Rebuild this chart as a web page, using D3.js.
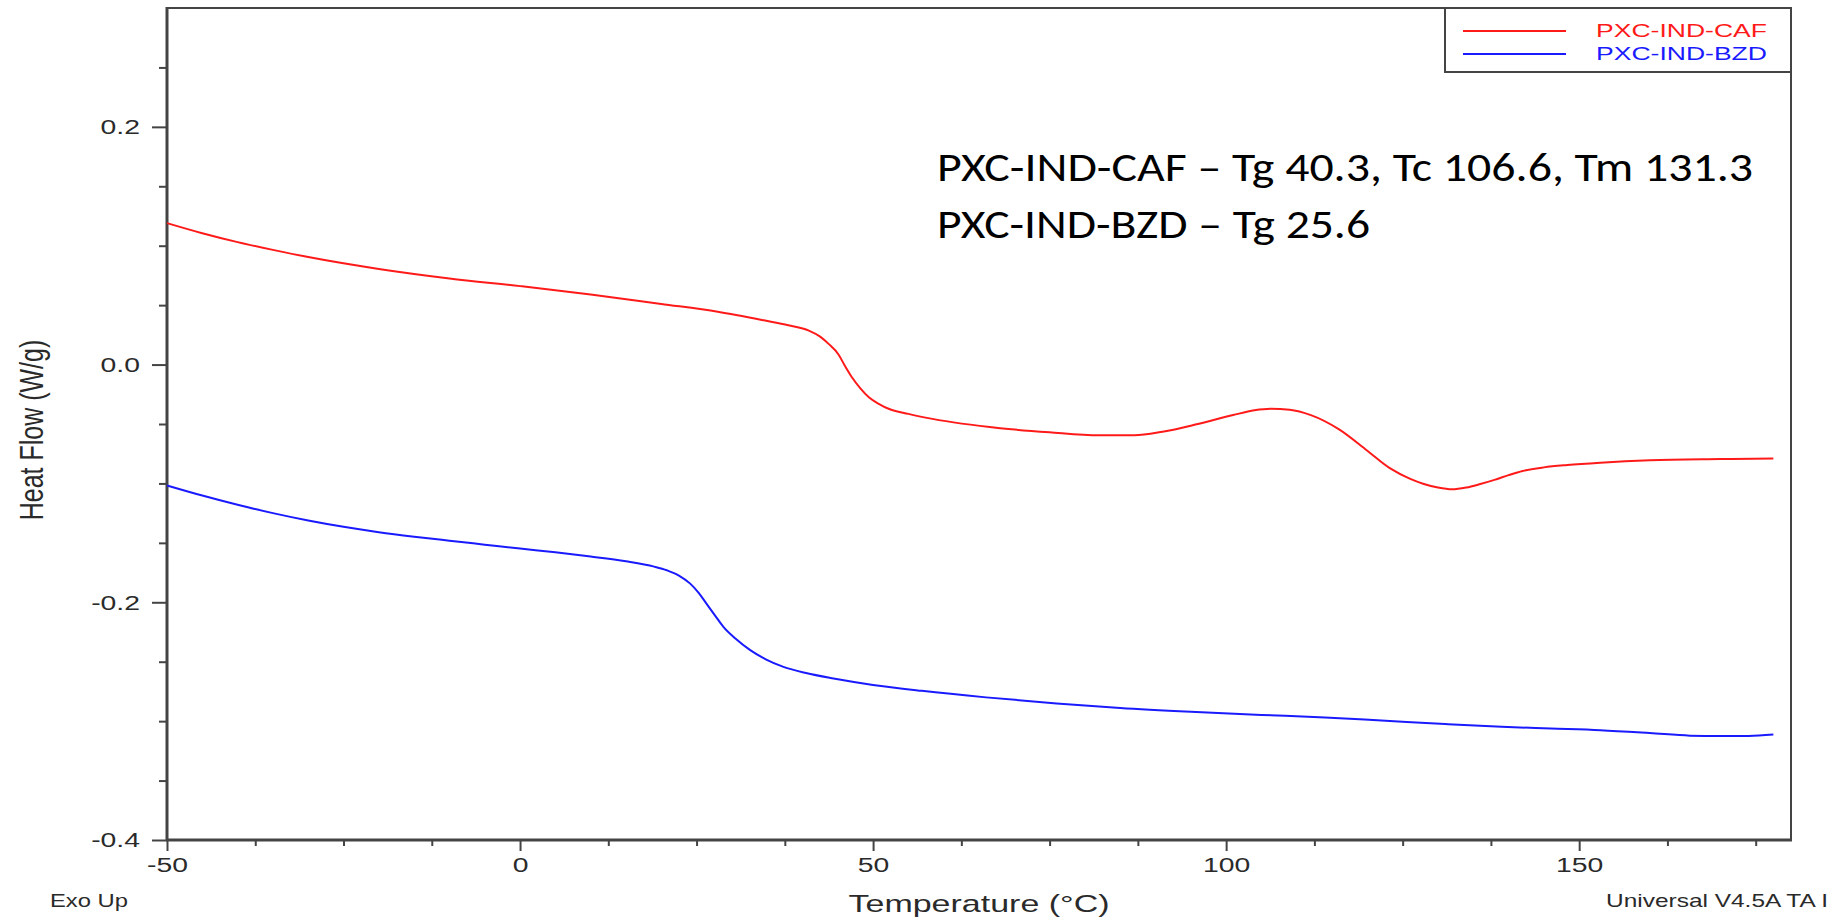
<!DOCTYPE html>
<html><head><meta charset="utf-8">
<script src="https://cdn.jsdelivr.net/npm/d3@7"></script>
<style>html,body{margin:0;padding:0;background:#fff;overflow:hidden}</style>
</head><body><svg id="chart" width="1836" height="920"></svg>
<script>
// ---------- data ----------
const seriesNames = ["PXC-IND-CAF", "PXC-IND-BZD"];
const seriesColors = ["#ff1a1a", "#1a1aff"];

const tempCAF = [-50, -45, -40, -35, -30, -20, -10, 0, 10, 20, 28, 34.7, 38, 40.9, 42.5, 43.7, 45.1, 46, 47, 48.2, 49.4, 50.8, 52.2, 55, 58.4, 68, 75, 82, 87, 91, 96, 101, 104, 106.3, 109, 112, 116, 120, 123.3, 126, 128, 130, 132, 134, 136, 138, 140, 142, 145, 148.3, 153, 160, 170, 177.5];
const flowCAF = [0.119, 0.1105, 0.103, 0.0965, 0.0905, 0.0805, 0.0725, 0.066, 0.059, 0.051, 0.0445, 0.037, 0.0330, 0.0286, 0.0235, 0.0174, 0.0085, -0.001, -0.0107, -0.020, -0.0275, -0.033, -0.0372, -0.0415, -0.0457, -0.0535, -0.057, -0.0595, -0.0595, -0.0565, -0.050, -0.0425, -0.0385, -0.0372, -0.038, -0.0425, -0.0545, -0.0725, -0.0876, -0.096, -0.1005, -0.1035, -0.105, -0.1035, -0.1005, -0.097, -0.093, -0.0895, -0.0865, -0.0845, -0.0825, -0.0805, -0.0795, -0.079];

const tempBZD = [-50, -45, -40, -35, -30, -25, -20, -15, -10, -5, 0, 5, 10, 15, 19, 20.8, 22.5, 24.1, 25.3, 26.4, 27.6, 28.8, 30.5, 32.6, 34.8, 37.3, 40.5, 44.4, 50, 56.9, 66, 76, 85, 95, 105, 114, 122, 131, 139, 146, 153, 160, 165.7, 170, 174, 177.5];
const flowBZD = [-0.1017, -0.1102, -0.1180, -0.1250, -0.1312, -0.1365, -0.1410, -0.1448, -0.1482, -0.1515, -0.1548, -0.1580, -0.1615, -0.1655, -0.1700, -0.1731, -0.1775, -0.1843, -0.192, -0.2011, -0.211, -0.2207, -0.2305, -0.2403, -0.248, -0.2543, -0.2595, -0.2641, -0.2695, -0.2745, -0.2800, -0.2851, -0.2890, -0.2922, -0.2948, -0.2969, -0.2995, -0.3025, -0.3048, -0.3062, -0.3076, -0.3100, -0.3122, -0.3126, -0.3124, -0.3112];

const xTicks = [-50, 0, 50, 100, 150];
const xMinorTicks = [-37.5, -25, -12.5, 12.5, 25, 37.5, 62.5, 75, 87.5, 112.5, 125, 137.5, 162.5, 175];
const yTicks = [-0.4, -0.2, 0, 0.2];
const yMinorTicks = [-0.35, -0.3, -0.25, -0.15, -0.1, -0.05, 0.05, 0.1, 0.15, 0.25];

const xTitle = "Temperature (°C)";
const yTitle = "Heat Flow (W/g)";
const cornerLeft = "Exo Up";
const cornerRight = "Universal V4.5A TA I";
const annotations = ["PXC-IND-CAF – Tg 40.3, Tc 106.6, Tm 131.3", "PXC-IND-BZD – Tg 25.6"];

// ---------- drawing ----------
const svg = d3.select("#chart");
const x = d3.scaleLinear().domain([-50, 180]).range([167, 1791]);
const y = d3.scaleLinear().domain([-0.4, 0.3]).range([840, 8]);
const SX = 1.35; // horizontal stretch of the original export
const axisColor = "#444";
const textColor = "#2a2a2a";
const font = "'Liberation Sans', Arial, Helvetica, sans-serif";

function stretchedText(str, tx, ty, size, anchor, color, extra, width) {
  const t = svg.append("text")
    .attr("transform", `translate(${tx},${ty}) scale(${SX},1)` + (extra || ""))
    .attr("text-anchor", anchor)
    .attr("font-family", font)
    .attr("font-size", size)
    .attr("fill", color)
    .text(str);
  if (width) t.attr("textLength", width / SX).attr("lengthAdjust", "spacingAndGlyphs");
  return t;
}

// Y axis (major + minor)
const yAxisG = svg.append("g").attr("transform", "translate(167,0)")
  .call(d3.axisLeft(y).tickValues(yTicks).tickSize(15).tickPadding(12)
    .tickFormat(d => d.toFixed(1)));
const yMinorG = svg.append("g").attr("transform", "translate(167,0)")
  .call(d3.axisLeft(y).tickValues(yMinorTicks).tickSize(8).tickFormat(""));

// X axis (major + minor)
const xAxisG = svg.append("g").attr("transform", "translate(0,840)")
  .call(d3.axisBottom(x).tickValues(xTicks).tickSize(11).tickPadding(6)
    .tickFormat(d => String(d)));
const xMinorG = svg.append("g").attr("transform", "translate(0,840)")
  .call(d3.axisBottom(x).tickValues(xMinorTicks).tickSize(6).tickFormat(""));

[yAxisG, yMinorG, xAxisG, xMinorG].forEach(g => {
  g.select(".domain").remove();
  g.selectAll("line").attr("stroke", axisColor).attr("stroke-width", 2);
});
yAxisG.selectAll("text")
  .attr("x", -27 / SX)
  .attr("transform", `scale(${SX},1)`)
  .attr("font-family", font).attr("font-size", 21).attr("fill", textColor);
xAxisG.selectAll("text")
  .attr("transform", `scale(${SX},1)`)
  .attr("font-family", font).attr("font-size", 21).attr("fill", textColor);

// frame
svg.append("line").attr("x1", 167).attr("x2", 1791).attr("y1", 8).attr("y2", 8)
  .attr("stroke", axisColor).attr("stroke-width", 2);
svg.append("line").attr("x1", 1791).attr("x2", 1791).attr("y1", 8).attr("y2", 840)
  .attr("stroke", axisColor).attr("stroke-width", 2);
svg.append("line").attr("x1", 167).attr("x2", 167).attr("y1", 7).attr("y2", 841)
  .attr("stroke", axisColor).attr("stroke-width", 3);
svg.append("line").attr("x1", 166).attr("x2", 1792).attr("y1", 840).attr("y2", 840)
  .attr("stroke", axisColor).attr("stroke-width", 3);

// curves
const line = d3.line().x(d => x(d[0])).y(d => y(d[1])).curve(d3.curveMonotoneX);
const seriesData = [d3.zip(tempCAF, flowCAF), d3.zip(tempBZD, flowBZD)];
seriesData.forEach((pts, i) => {
  svg.append("path").datum(pts).attr("d", line)
    .attr("fill", "none").attr("stroke", seriesColors[i]).attr("stroke-width", 2);
});

// legend
svg.append("rect").attr("x", 1445).attr("y", 8).attr("width", 346).attr("height", 64)
  .attr("fill", "#fff").attr("stroke", axisColor).attr("stroke-width", 2);
seriesNames.forEach((name, i) => {
  const ly = 31 + i * 23;
  svg.append("line").attr("x1", 1463).attr("x2", 1566).attr("y1", ly).attr("y2", ly)
    .attr("stroke", seriesColors[i]).attr("stroke-width", 2);
  stretchedText(name, 1596, ly + 6, 19, "start", seriesColors[i], "", 171);
});

// axis titles and corner notes
stretchedText(xTitle, 979, 912, 24, "middle", textColor, "", 261);
stretchedText(yTitle, 43, 430, 25, "middle", textColor, " rotate(-90)");
stretchedText(cornerLeft, 50, 907, 18, "start", textColor, "", 78);
stretchedText(cornerRight, 1606, 907, 18, "start", textColor, "", 222);

// annotation (overlay text)
const annFont = "Carlito, Lato, 'Open Sans', sans-serif";
const annWidths = [816, 433];
annotations.forEach((t, i) => {
  svg.append("text").attr("x", 937).attr("y", 181 + i * 57)
    .attr("font-family", annFont).attr("font-size", 41).attr("fill", "#000")
    .attr("textLength", annWidths[i]).attr("lengthAdjust", "spacingAndGlyphs")
    .text(t);
});
</script>
</body></html>
